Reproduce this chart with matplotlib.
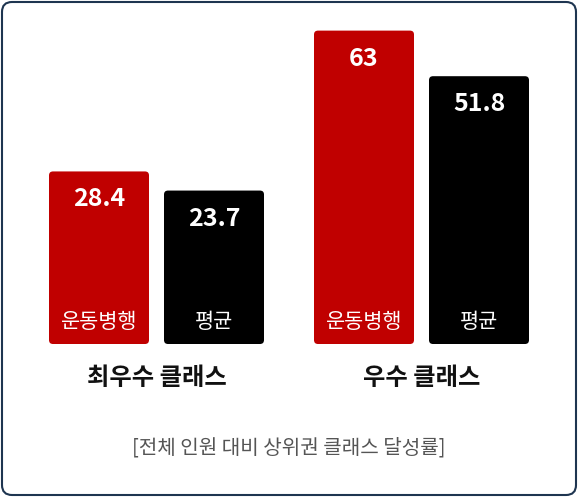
import matplotlib.pyplot as plt
from matplotlib.patches import FancyBboxPatch

plt.rcParams['font.family'] = ['Noto Sans CJK KR', 'DejaVu Sans']

groups = ['최우수 클래스', '우수 클래스']
series = ['운동병행', '평균']
values = [[28.4, 23.7], [63, 51.8]]
colors = ['#c00000', '#000000']
footer = '[전체 인원 대비 상위권 클래스 달성률]'

W, H = 578, 497
fig = plt.figure(figsize=(W / 100, H / 100), dpi=100)
ax = fig.add_axes([0, 0, 1, 1])
ax.set_xlim(0, W)
ax.set_ylim(H, 0)
ax.axis('off')

# outer frame
ax.add_patch(FancyBboxPatch((2, 2), W - 4, H - 4, boxstyle='round,pad=0,rounding_size=10',
                            fc='white', ec='#1e3550', lw=1.5))

base = 344      # baseline pixel
scale = 4.07    # px per unit
offset = 14     # value offset of the bar bottom
starts = [49, 314]
bw, gap = 100, 15

for g, (gname, vals) in enumerate(zip(groups, values)):
    for s, v in enumerate(vals):
        x = starts[g] + s * (bw + gap)
        h = (v + offset) * scale
        top = base - h
        ax.add_patch(FancyBboxPatch((x, top), bw, h, boxstyle='round,pad=0,rounding_size=4',
                                    fc=colors[s], ec='none'))
        ax.text(x + bw / 2, top + 28, f'{v:g}', color='white', fontsize=18, fontweight='bold',
                ha='center', va='center')
        ax.text(x + bw / 2, base - 22, series[s], color='white', fontsize=15,
                ha='center', va='center')
    ax.text(starts[g] + bw + gap / 2, 378, gname, fontsize=17.5, fontweight='bold',
            ha='center', va='center', color='#111111')

ax.text(W / 2, 448, footer, fontsize=14.5, color='#555555', ha='center', va='center')

fig.savefig('out.png', dpi=100)
